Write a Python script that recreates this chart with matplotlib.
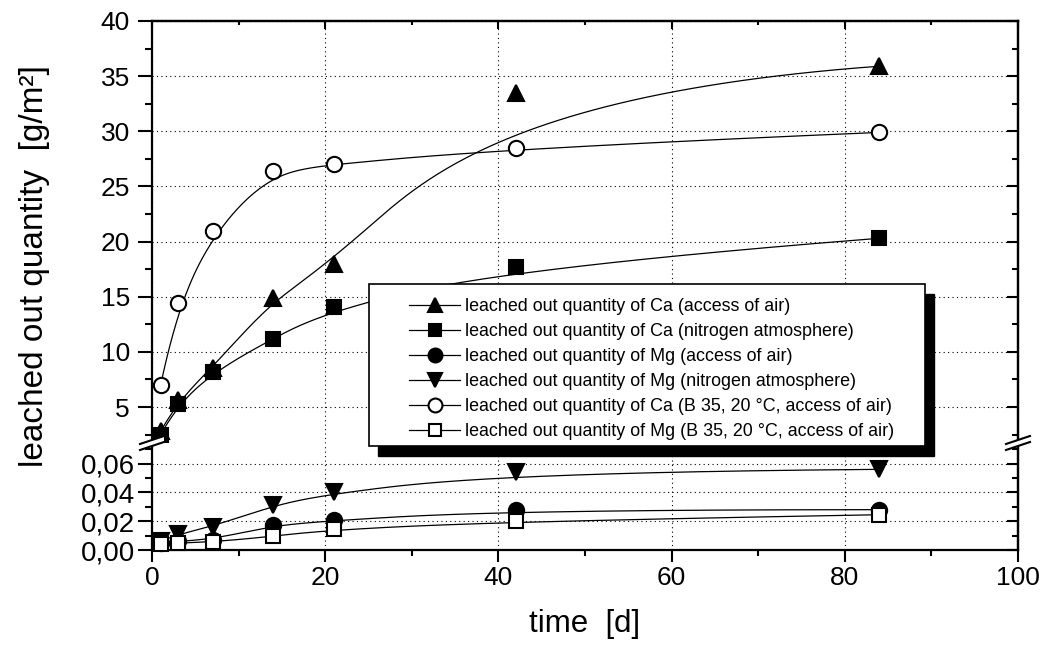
import numpy as np
import matplotlib
matplotlib.use("Agg")
import matplotlib.pyplot as plt
from matplotlib.lines import Line2D
from matplotlib.patches import Rectangle, Polygon
from matplotlib.ticker import FixedLocator, FuncFormatter

plt.rcParams['font.family'] = ['Liberation Sans', 'DejaVu Sans']

# -------- data --------
days = [1, 3, 7, 14, 21, 42, 84]
ca_air = [2.8, 5.6, 8.5, 14.9, 18.0, 33.5, 35.9]
ca_n2 = [2.5, 5.3, 8.2, 11.2, 14.1, 17.7, 20.3]
ca_b35 = [7.0, 14.4, 21.0, 26.4, 27.0, 28.5, 29.9]
mg_air = [0.005, 0.006, 0.007, 0.0172, 0.0205, 0.028, 0.028]
mg_n2 = [0.006, 0.011, 0.016, 0.031, 0.040, 0.054, 0.056]
mg_b35 = [0.0042, 0.0048, 0.0055, 0.0095, 0.0145, 0.020, 0.0245]

labels = [
    "leached out quantity of Ca (access of air)",
    "leached out quantity of Ca (nitrogen atmosphere)",
    "leached out quantity of Mg (access of air)",
    "leached out quantity of Mg (nitrogen atmosphere)",
    "leached out quantity of Ca (B 35, 20 \u00b0C, access of air)",
    "leached out quantity of Mg (B 35, 20 \u00b0C, access of air)",
]

upper_major = [5, 10, 15, 20, 25, 30, 35, 40]
upper_minor = [2.5, 7.5, 12.5, 17.5, 22.5, 27.5, 32.5, 37.5]
lower_major = [0.0, 0.02, 0.04, 0.06]
lower_minor = [0.01, 0.03, 0.05, 0.07]
x_major = [0, 20, 40, 60, 80, 100]
x_minor = [10, 30, 50, 70, 90]


def bspline(xs, ys, k=3, n=400):
    # clamped uniform B-spline with the data points as control points
    P = np.column_stack([xs, ys]).astype(float)
    m = len(P)
    t = np.concatenate([np.zeros(k), np.linspace(0, 1, m - k + 1), np.ones(k)])
    u = np.linspace(0, 1, n)
    N = np.zeros((n, len(t) - 1))
    for i in range(len(t) - 1):
        N[:, i] = (t[i] <= u) & (u < t[i + 1])
    N[-1, m - 1] = 1.0
    for p in range(1, k + 1):
        Nn = np.zeros((n, len(t) - 1 - p))
        for i in range(len(t) - 1 - p):
            d1 = t[i + p] - t[i]
            d2 = t[i + p + 1] - t[i + 1]
            a = (u - t[i]) / d1 * N[:, i] if d1 > 0 else 0
            b = (t[i + p + 1] - u) / d2 * N[:, i + 1] if d2 > 0 else 0
            Nn[:, i] = a + b
        N = Nn
    c = N @ P
    return c[:, 0], c[:, 1]


W, H = 1046, 648
fig = plt.figure(figsize=(W / 100, H / 100), dpi=100)

L, R = 152 / W, 1018 / W
y_top, y_mid, y_bot = 21, 443, 550
ax_up = fig.add_axes([L, 1 - y_mid / H, R - L, (y_mid - y_top) / H])
ax_lo = fig.add_axes([L, 1 - y_bot / H, R - L, (y_bot - y_mid) / H])

ax_up.set_ylim(40 - (y_mid - y_top) / 11.03, 40)
ax_lo.set_ylim(0, (y_bot - y_mid) / 1440)
for ax in (ax_up, ax_lo):
    ax.set_xlim(0, 100)

mk = 11
lw = 0.9
for vals in (ca_air, ca_b35, ca_n2):
    cx, cy = bspline(days, vals)
    ax_up.plot(cx, cy, color='black', lw=lw, zorder=2)
for vals, m, fc in [(ca_air, '^', 'black'), (ca_n2, 's', 'black'), (ca_b35, 'o', 'white')]:
    ax_up.plot(days, vals, ls='none', marker=m, ms=mk if m != 's' else mk - 1,
               mfc=fc, mec='black', mew=1.5, zorder=3, clip_on=False)

for vals in (mg_n2, mg_air, mg_b35):
    cx, cy = bspline(days, vals)
    ax_lo.plot(cx, cy, color='black', lw=lw, zorder=2)
for vals, m, fc in [(mg_n2, 'v', 'black'), (mg_air, 'o', 'black'), (mg_b35, 's', 'white')]:
    ax_lo.plot(days, vals, ls='none', marker=m, ms=mk if m != 's' else mk - 1,
               mfc=fc, mec='black', mew=1.5, zorder=3, clip_on=False)

# -------- axes styling --------
spine_w = 1.6
grid_kw = dict(color='black', lw=0.8, ls=(0, (1, 3)))

for ax in (ax_up, ax_lo):
    for s in ax.spines.values():
        s.set_linewidth(spine_w)
    ax.xaxis.set_major_locator(FixedLocator(x_major))
    ax.xaxis.set_minor_locator(FixedLocator(x_minor))
    ax.grid(True, which='major', **grid_kw)
    ax.set_axisbelow(True)
    ax.tick_params(axis='y', which='minor', direction='out', length=5, width=1.5)
    sec = ax.secondary_yaxis('right')
    sec.spines['right'].set_linewidth(spine_w)
    sec.tick_params(which='major', direction='in', length=8, width=1.5, labelright=False)
    sec.tick_params(which='minor', direction='in', length=4, width=1.5)
    ax.sec = sec

ax_up.tick_params(axis='y', which='major', direction='out', length=10, width=1.5, labelsize=19, pad=6)
ax_lo.tick_params(axis='y', which='major', direction='out', length=10, width=1.5, labelsize=20, pad=2)

ax_up.spines['bottom'].set_visible(False)
ax_lo.spines['top'].set_visible(False)

ax_up.yaxis.set_major_locator(FixedLocator(upper_major))
ax_up.yaxis.set_minor_locator(FixedLocator(upper_minor))
ax_up.sec.yaxis.set_major_locator(FixedLocator(upper_major))
ax_up.sec.yaxis.set_minor_locator(FixedLocator(upper_minor))
ax_up.tick_params(axis='x', which='both', bottom=False, labelbottom=False)
top = ax_up.secondary_xaxis('top')
top.spines['top'].set_linewidth(spine_w)
top.xaxis.set_major_locator(FixedLocator(x_major))
top.xaxis.set_minor_locator(FixedLocator(x_minor))
top.tick_params(which='major', direction='in', length=6, width=1.5, labeltop=False)
top.tick_params(which='minor', direction='in', length=3, width=1.5)

ax_lo.yaxis.set_major_locator(FixedLocator(lower_major))
ax_lo.yaxis.set_minor_locator(FixedLocator(lower_minor))
ax_lo.sec.yaxis.set_major_locator(FixedLocator(lower_major))
ax_lo.sec.yaxis.set_minor_locator(FixedLocator(lower_minor))
ax_lo.yaxis.set_major_formatter(FuncFormatter(lambda v, p: f"{v:.2f}".replace('.', ',')))
ax_lo.tick_params(axis='x', which='major', direction='out', length=8.5, width=1.5, labelsize=19, pad=3)
ax_lo.tick_params(axis='x', which='minor', direction='out', length=4.5, width=1.5)

# -------- axis break marks --------
def fx(px):
    return px / W

def fy(py):
    return 1 - py / H

for xc in (152, 1018):
    gap = 6
    poly = Polygon([(fx(xc - 12), fy(447 + gap / 2)), (fx(xc + 12), fy(439 + gap / 2)),
                    (fx(xc + 12), fy(439 - gap / 2)), (fx(xc - 12), fy(447 - gap / 2))],
                   closed=True, facecolor='white', edgecolor='none',
                   transform=fig.transFigure, zorder=6)
    fig.add_artist(poly)
    for off in (-gap / 2, gap / 2):
        fig.add_artist(Line2D([fx(xc - 12), fx(xc + 12)], [fy(447 + off), fy(439 + off)],
                              color='black', lw=1.5, transform=fig.transFigure, zorder=7))

# -------- legend with shadow --------
bx0, by0, bx1, by1 = 369, 284, 925, 446
fig.add_artist(Rectangle((fx(bx0 + 9), fy(by1 + 10)), (bx1 - bx0) / W, (by1 - by0) / H,
                         transform=fig.transFigure, facecolor='black', edgecolor='black', zorder=8))
fig.add_artist(Rectangle((fx(bx0), fy(by1)), (bx1 - bx0) / W, (by1 - by0) / H,
                         transform=fig.transFigure, facecolor='white', edgecolor='black',
                         lw=1.2, zorder=9))
handle_specs = [('^', 'black'), ('s', 'black'), ('o', 'black'), ('v', 'black'), ('o', 'white'), ('s', 'white')]
handles = [Line2D([], [], color='black', lw=lw, marker=m, ms=mk - 1 if m != 's' else mk - 2,
                  mfc=fc, mec='black', mew=1.5) for m, fc in handle_specs]
leg = fig.legend(handles, labels, loc='upper left', bbox_to_anchor=(fx(409), fy(298)),
                 frameon=False, fontsize=12.9, handlelength=2.85, handletextpad=0.28,
                 labelspacing=0.45, borderpad=0, borderaxespad=0)
leg.set_zorder(10)

fig.text(fx(35), fy(266), "leached out quantity  [g/m\u00b2]", rotation=90,
         ha='center', va='center', fontsize=24)
fig.text(fx(585), fy(624), "time  [d]", ha='center', va='center', fontsize=22.5)

fig.savefig("out.png", dpi=100)
